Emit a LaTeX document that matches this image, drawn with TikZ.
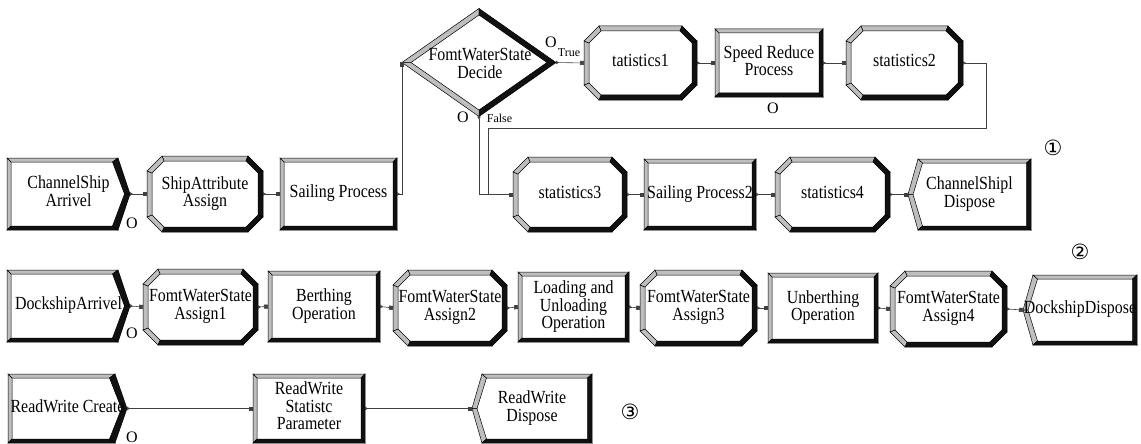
\documentclass[tikz,border=0pt]{standalone}
\usepackage{fontspec}
\setmainfont{Liberation Serif}
\newfontfamily\circfont{DejaVu Sans}
\usepackage{graphicx}
\usetikzlibrary{shapes.geometric,arrows.meta}
\definecolor{bandgray}{HTML}{BEBEBE}
\definecolor{bandblack}{HTML}{111111}
\definecolor{linegray}{HTML}{404040}
\newcommand\tx[1]{\scalebox{0.86}[1]{\begin{tabular}{@{}c@{}}#1\end{tabular}}}
\tikzset{
 gb/.style={fill=bandgray,draw=black,line width=0.5pt,line join=miter},
 kb/.style={fill=bandblack,draw=black,line width=0.5pt,line join=miter},
 face/.style={fill=white},
 mod/.style={inner sep=0pt,outer sep=0pt,font=\fontsize{18.5}{17.5}\selectfont},
 conn/.style={draw=linegray,line width=0.6pt,arrows={Triangle[length=3pt,width=3.5pt,reversed]-Square[length=4pt,width=4pt]}},
 small/.style={font=\fontsize{12}{12}\selectfont,inner sep=0pt},
 olab/.style={font=\fontsize{16}{16}\selectfont,inner sep=0pt},
 circ/.style={font=\circfont\fontsize{21}{21}\selectfont,inner sep=0pt},
}
% process: rectangle
\newcommand\procmod[6]{%
 \pgfmathsetmacro\xa{#2}\pgfmathsetmacro\ya{#3}\pgfmathsetmacro\xb{#4}\pgfmathsetmacro\yb{#5}%
 \def\bw{4}%
 \fill[face] (\xa,\ya) rectangle (\xb,\yb);
 \draw[gb] (\xa,\ya) -- (\xb,\ya) -- ({\xb-\bw},{\ya+\bw}) -- ({\xa+\bw},{\ya+\bw}) -- cycle;
 \draw[gb] (\xa,\ya) -- ({\xa+\bw},{\ya+\bw}) -- ({\xa+\bw},{\yb-\bw}) -- (\xa,\yb) -- cycle;
 \draw[kb] (\xb,\ya) -- (\xb,\yb) -- ({\xb-\bw},{\yb-\bw}) -- ({\xb-\bw},{\ya+\bw}) -- cycle;
 \draw[kb] (\xa,\yb) -- (\xb,\yb) -- ({\xb-\bw},{\yb-\bw}) -- ({\xa+\bw},{\yb-\bw}) -- cycle;
 \pgfmathsetmacro\ww{\xb-\xa}\pgfmathsetmacro\hh{\yb-\ya}%
 \node[mod,minimum width=\ww pt,minimum height=\hh pt] (#1) at ({(\xa+\xb)/2},{(\ya+\yb)/2}) {\tx{#6}};
}
% assign: octagon
\newcommand\assignmod[6]{%
 \pgfmathsetmacro\xa{#2}\pgfmathsetmacro\ya{#3}\pgfmathsetmacro\xb{#4}\pgfmathsetmacro\yb{#5}%
 \def\cc{15}\def\bw{5}\def\kk{2}%
 \coordinate (p1) at ({\xa+\cc},\ya);
 \coordinate (p2) at ({\xb-\cc},\ya);
 \coordinate (p3) at (\xb,{\ya+\cc});
 \coordinate (p4) at (\xb,{\yb-\cc});
 \coordinate (p5) at ({\xb-\cc},\yb);
 \coordinate (p6) at ({\xa+\cc},\yb);
 \coordinate (p7) at (\xa,{\yb-\cc});
 \coordinate (p8) at (\xa,{\ya+\cc});
 \coordinate (q1) at ({\xa+\cc+\kk},{\ya+\bw});
 \coordinate (q2) at ({\xb-\cc-\kk},{\ya+\bw});
 \coordinate (q3) at ({\xb-\bw},{\ya+\cc+\kk});
 \coordinate (q4) at ({\xb-\bw},{\yb-\cc-\kk});
 \coordinate (q5) at ({\xb-\cc-\kk},{\yb-\bw});
 \coordinate (q6) at ({\xa+\cc+\kk},{\yb-\bw});
 \coordinate (q7) at ({\xa+\bw},{\yb-\cc-\kk});
 \coordinate (q8) at ({\xa+\bw},{\ya+\cc+\kk});
 \fill[face] (p1)--(p2)--(p3)--(p4)--(p5)--(p6)--(p7)--(p8)--cycle;
 \draw[gb] (p1)--(p2)--(q2)--(q1)--cycle;
 \draw[kb] (p2)--(p3)--(q3)--(q2)--cycle;
 \draw[kb] (p3)--(p4)--(q4)--(q3)--cycle;
 \draw[kb] (p4)--(p5)--(q5)--(q4)--cycle;
 \draw[kb] (p5)--(p6)--(q6)--(q5)--cycle;
 \draw[gb] (p6)--(p7)--(q7)--(q6)--cycle;
 \draw[gb] (p7)--(p8)--(q8)--(q7)--cycle;
 \draw[gb] (p8)--(p1)--(q1)--(q8)--cycle;
 \pgfmathsetmacro\ww{\xb-\xa}\pgfmathsetmacro\hh{\yb-\ya}%
 \node[mod,minimum width=\ww pt,minimum height=\hh pt] (#1) at ({(\xa+\xb)/2},{(\ya+\yb)/2}) {\tx{#6}};
}
% create: chevron pointing right
\newcommand\createmod[6]{%
 \pgfmathsetmacro\xa{#2}\pgfmathsetmacro\ya{#3}\pgfmathsetmacro\xb{#4}\pgfmathsetmacro\yb{#5}%
 \pgfmathsetmacro\ym{(\ya+\yb)/2}%
 \coordinate (p1) at (\xa,\ya);
 \coordinate (p2) at ({\xb-12},\ya);
 \coordinate (p3) at (\xb,\ym);
 \coordinate (p4) at ({\xb-12},\yb);
 \coordinate (p5) at (\xa,\yb);
 \coordinate (q1) at ({\xa+4},{\ya+4});
 \coordinate (q2) at ({\xb-17.5},{\ya+4});
 \coordinate (q3) at ({\xb-5.5},\ym);
 \coordinate (q4) at ({\xb-17.5},{\yb-4});
 \coordinate (q5) at ({\xa+4},{\yb-4});
 \fill[face] (p1)--(p2)--(p3)--(p4)--(p5)--cycle;
 \draw[gb] (p1)--(p2)--(q2)--(q1)--cycle;
 \draw[gb] (p5)--(p1)--(q1)--(q5)--cycle;
 \draw[kb] (p2)--(p3)--(q3)--(q2)--cycle;
 \draw[kb] (p3)--(p4)--(q4)--(q3)--cycle;
 \draw[kb] (p4)--(p5)--(q5)--(q4)--cycle;
 \pgfmathsetmacro\ww{\xb-\xa}\pgfmathsetmacro\hh{\yb-\ya}%
 \node[mod,minimum width=\ww pt,minimum height=\hh pt] (#1) at ({(\xa+\xb)/2},\ym) {\tx{#6}};
}
% dispose: chevron pointing left
\newcommand\disposemod[6]{%
 \pgfmathsetmacro\xa{#2}\pgfmathsetmacro\ya{#3}\pgfmathsetmacro\xb{#4}\pgfmathsetmacro\yb{#5}%
 \pgfmathsetmacro\ym{(\ya+\yb)/2}%
 \coordinate (p1) at ({\xa+10},\ya);
 \coordinate (p2) at (\xb,\ya);
 \coordinate (p3) at (\xb,\yb);
 \coordinate (p4) at ({\xa+10},\yb);
 \coordinate (p5) at (\xa,\ym);
 \coordinate (q1) at ({\xa+14.5},{\ya+4});
 \coordinate (q2) at ({\xb-4.5},{\ya+4});
 \coordinate (q3) at ({\xb-4.5},{\yb-4});
 \coordinate (q4) at ({\xa+14.5},{\yb-4});
 \coordinate (q5) at ({\xa+5},\ym);
 \fill[face] (p1)--(p2)--(p3)--(p4)--(p5)--cycle;
 \draw[gb] (p5)--(p1)--(q1)--(q5)--cycle;
 \draw[gb] (p1)--(p2)--(q2)--(q1)--cycle;
 \draw[gb] (p4)--(p5)--(q5)--(q4)--cycle;
 \draw[kb] (p2)--(p3)--(q3)--(q2)--cycle;
 \draw[kb] (p3)--(p4)--(q4)--(q3)--cycle;
 \pgfmathsetmacro\ww{\xb-\xa}\pgfmathsetmacro\hh{\yb-\ya}%
 \node[mod,minimum width=\ww pt,minimum height=\hh pt] (#1) at ({(\xa+\xb)/2},\ym) {\tx{#6}};
}
\begin{document}
\begin{tikzpicture}[x=1pt,y=-1pt]
\useasboundingbox (0,0) rectangle (1141,444);

% ---------- channel ships (1) ----------
\createmod{cs}{7}{158}{130}{230}{ChannelShip\\Arrivel}
\assignmod{sa}{147}{156}{263}{232}{ShipAttribute\\Assign}
\procmod{sp}{280}{158}{397}{230}{Sailing Process}

% decide
\node[diamond,shape aspect=1.43,minimum width=154pt,minimum height=108pt,inner sep=0pt,outer sep=0pt] (D) at (479,62.5) {};
\fill[face] (D.west)--(D.north)--(D.east)--(D.south)--cycle;
\draw[gb] (D.west)--(D.north)--(479,15)--(411,62.5)--cycle;
\draw[kb] (D.north)--(D.east)--(547,62.5)--(479,15)--cycle;
\draw[kb] (D.east)--(D.south)--(479,110)--(547,62.5)--cycle;
\draw[gb] (D.south)--(D.west)--(411,62.5)--(479,110)--cycle;
\node[mod] (Dtxt) at (480,66) {\tx{FomtWaterState\\Decide}};

\assignmod{st1}{584}{26}{697}{100}{tatistics1}
\procmod{srp}{715}{29}{823}{97}{Speed Reduce\\Process}
\assignmod{st2}{846}{26}{963}{100}{statistics2}

\assignmod{st3}{513}{157}{627}{232}{statistics3}
\procmod{sp2}{644}{159}{756}{230}{Sailing Process2}
\assignmod{st4}{775}{157}{890}{232}{statistics4}
\disposemod{csd}{908}{159}{1031}{230}{ChannelShipl\\Dispose}

\draw[conn] (cs.east) -- (sa.west);
\draw[conn] (sa.east) -- (sp.west);
\draw[conn] (sp.east) -| (D.west);
\draw[conn] (D.east) -- (st1.west);
\draw[conn] (st1.east) -- (srp.west);
\draw[conn] (srp.east) -- (st2.west);
\draw[conn] (D.south) |- (st3.west);
\coordinate (jn) at (488,128);
\draw[conn] (st2.east) -- ++(23,0) |- (jn) |- (st3.west);
\draw[conn] (st3.east) -- (sp2.west);
\draw[conn] (sp2.east) -- (st4.west);
\draw[conn] (st4.east) -- (csd.west);

\node[olab] (o1) at (132,223) {O};
\node[olab] (o2) at (551,42) {O};
\node[olab] (o3) at (463,117) {O};
\node[olab] (o4) at (773,108) {O};
\node[small] (tt) at (569,52.5) {True};
\node[small] (ff) at (499.5,118) {False};
\node[circ] (c1) at (1053,148) {①};

% ---------- dock ships (2) ----------
\createmod{da}{7}{270}{130}{342}{DockshipArrivel}
\assignmod{a1}{143}{269}{258}{345}{FomtWaterState\\Assign1}
\procmod{bo}{268}{271}{380}{342}{Berthing\\Operation}
\assignmod{a2}{393}{270}{507}{346}{FomtWaterState\\Assign2}
\procmod{luo}{518}{272}{629}{342}{Loading and\\Unloading\\Operation}
\assignmod{a3}{640}{270}{757}{346}{FomtWaterState\\Assign3}
\procmod{uo}{768}{273}{878}{343}{Unberthing\\Operation}
\assignmod{a4}{890}{271}{1007}{347}{FomtWaterState\\Assign4}
\disposemod{dd}{1023}{275}{1137}{345}{DockshipDispose}

\draw[conn] (da.east) -- (a1.west);
\draw[conn] (a1.east) -- (bo.west);
\draw[conn] (bo.east) -- (a2.west);
\draw[conn] (a2.east) -- (luo.west);
\draw[conn] (luo.east) -- (a3.west);
\draw[conn] (a3.east) -- (uo.west);
\draw[conn] (uo.east) -- (a4.west);
\draw[conn] (a4.east) -- (dd.west);

\node[olab] (o5) at (132,333) {O};
\node[circ] (c2) at (1080,252) {②};

% ---------- read/write (3) ----------
\createmod{rc}{8}{374}{127}{443}{ReadWrite Create}
\procmod{rsp}{253}{374}{365}{443}{ReadWrite\\Statistc\\Parameter}
\disposemod{rd}{472}{374}{592}{443}{ReadWrite\\Dispose}

\draw[conn] (rc.east) -- (rsp.west);
\draw[conn] (rsp.east) -- (rd.west);

\node[olab] (o6) at (132,437) {O};
\node[circ] (c3) at (630,412) {③};
\end{tikzpicture}
\end{document}
